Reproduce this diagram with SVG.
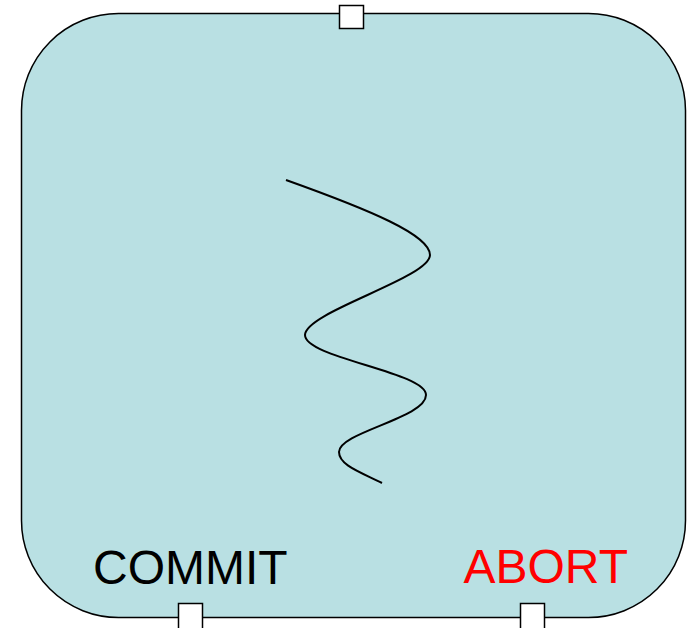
<svg xmlns="http://www.w3.org/2000/svg" width="688" height="628" viewBox="0 0 688 628">
<style>
.port{fill:#ffffff;stroke:#000000;stroke-width:1.5}
.lbl{font-family:"Liberation Sans",Arial,sans-serif;font-size:48px}
</style>
<rect x="0" y="0" width="688" height="628" fill="#ffffff"/>
<g id="state">
<rect x="21.5" y="13.5" width="664" height="604" rx="97" ry="97" fill="#b9e0e3" stroke="#000000" stroke-width="1.5"/>
<path d="M286,180 C370,210 430,235 430,255 C430,278 305,312 305,335 C305,358 426,372 426,395 C426,418 339,432 339,452 C339,465 360,472 382,483" fill="none" stroke="#000000" stroke-width="2"/>
<text class="lbl" x="93" y="583.5" fill="#000000">COMMIT</text>
<text class="lbl" x="463.5" y="582.5" fill="#ff0000">ABORT</text>
</g>
<g id="port-top"><rect class="port" x="339.5" y="5.5" width="24" height="23"/></g>
<g id="port-commit"><rect class="port" x="178.5" y="603.5" width="24" height="26"/></g>
<g id="port-abort"><rect class="port" x="520.5" y="603.5" width="24" height="26"/></g>
</svg>
